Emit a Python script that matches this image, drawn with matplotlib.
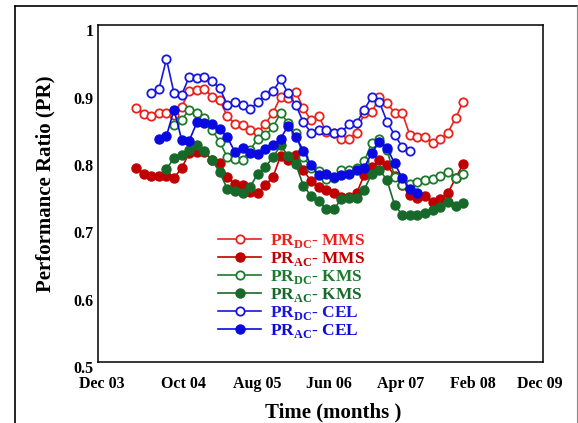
import numpy as np
import matplotlib
matplotlib.use('Agg')
import matplotlib.pyplot as plt
from matplotlib.lines import Line2D
from matplotlib.transforms import ScaledTranslation

plt.rcParams['font.family'] = 'Liberation Serif'
plt.rcParams['font.weight'] = 'bold'
plt.rcParams['mathtext.fontset'] = 'custom'
plt.rcParams['mathtext.rm'] = 'Liberation Serif:bold'
plt.rcParams['mathtext.bf'] = 'Liberation Serif:bold'

# x = months counted from Dec 03
mms_months = np.arange(5, 49)
kms_dc_months = np.arange(10, 49)
kms_ac_months = np.arange(9, 49)
cel_dc_months = np.arange(7, 42)
cel_ac_months = np.arange(8, 43)

mms_dc = [0.877, 0.868, 0.865, 0.870, 0.870, 0.867, 0.879, 0.903, 0.904, 0.906,
          0.894, 0.889, 0.865, 0.854, 0.852, 0.845, 0.842, 0.854, 0.870, 0.894,
          0.892, 0.901, 0.877, 0.859, 0.866, 0.842, 0.840, 0.832, 0.832, 0.841,
          0.870, 0.871, 0.894, 0.885, 0.870, 0.870, 0.837, 0.834, 0.834, 0.825,
          0.831, 0.841, 0.862, 0.887]
mms_ac = [0.788, 0.779, 0.776, 0.777, 0.777, 0.774, 0.788, 0.811, 0.812, 0.812,
          0.800, 0.796, 0.775, 0.764, 0.763, 0.752, 0.751, 0.763, 0.775, 0.806,
          0.800, 0.808, 0.785, 0.769, 0.760, 0.756, 0.751, 0.745, 0.745, 0.751,
          0.778, 0.790, 0.800, 0.793, 0.776, 0.763, 0.748, 0.743, 0.746, 0.737,
          0.742, 0.751, 0.773, 0.794]
kms_dc = [0.852, 0.860, 0.875, 0.870, 0.862, 0.845, 0.827, 0.804, 0.802, 0.800,
          0.815, 0.832, 0.837, 0.849, 0.870, 0.855, 0.840, 0.805, 0.789, 0.784,
          0.772, 0.774, 0.786, 0.786, 0.788, 0.798, 0.826, 0.832, 0.815, 0.775,
          0.763, 0.764, 0.767, 0.770, 0.772, 0.777, 0.782, 0.774, 0.779]
kms_ac = [0.787, 0.803, 0.808, 0.815, 0.823, 0.813, 0.800, 0.782, 0.757, 0.754,
          0.751, 0.760, 0.780, 0.790, 0.804, 0.822, 0.806, 0.794, 0.762, 0.747,
          0.739, 0.728, 0.727, 0.742, 0.743, 0.743, 0.756, 0.780, 0.786, 0.770,
          0.733, 0.719, 0.718, 0.719, 0.722, 0.726, 0.731, 0.737, 0.732, 0.736]
cel_dc = [0.899, 0.905, 0.950, 0.899, 0.897, 0.924, 0.922, 0.924, 0.917, 0.907,
          0.882, 0.887, 0.882, 0.876, 0.886, 0.897, 0.902, 0.920, 0.899, 0.882,
          0.856, 0.841, 0.845, 0.845, 0.841, 0.842, 0.853, 0.855, 0.875, 0.894,
          0.886, 0.857, 0.837, 0.820, 0.814]
cel_ac = [0.831, 0.836, 0.875, 0.830, 0.829, 0.856, 0.855, 0.854, 0.846, 0.834,
          0.812, 0.818, 0.810, 0.809, 0.816, 0.822, 0.832, 0.851, 0.835, 0.814,
          0.793, 0.778, 0.779, 0.775, 0.778, 0.780, 0.786, 0.789, 0.811, 0.827,
          0.818, 0.795, 0.773, 0.757, 0.751]

xtick_pos = [0.5, 11.2, 20.9, 30.4, 39.8, 49.3, 58.1]
xtick_labels = ['Dec 03', 'Oct 04', 'Aug 05', 'Jun 06', 'Apr 07', 'Feb 08', 'Dec 09']
yticks = [0.5, 0.6, 0.7, 0.8, 0.9, 1.0]
ytick_labels = ['0.5', '0.6', '0.7', '0.8', '0.9', '1']

series = [
    (mms_months, mms_dc, '#e8221c', False, r'PR$_{\mathrm{DC}}$- MMS'),
    (mms_months, mms_ac, '#c00000', True, r'PR$_{\mathrm{AC}}$- MMS'),
    (kms_dc_months, kms_dc, '#1c7a2c', False, r'PR$_{\mathrm{DC}}$- KMS'),
    (kms_ac_months, kms_ac, '#17692a', True, r'PR$_{\mathrm{AC}}$- KMS'),
    (cel_dc_months, cel_dc, '#1717dd', False, r'PR$_{\mathrm{DC}}$- CEL'),
    (cel_ac_months, cel_ac, '#0a0ae0', True, r'PR$_{\mathrm{AC}}$- CEL'),
]

fig = plt.figure(figsize=(5.78, 4.23), dpi=100)
ax = fig.add_axes([98 / 578, 61 / 423, 445 / 578, 336.5 / 423])

for x, y, c, filled, lab in series:
    if filled:
        ax.plot(x, y, '-o', color=c, lw=1.2, ms=6.5, mfc=c, mec=c, label=lab)
    else:
        ax.plot(x, y, '-o', color=c, lw=1.2, ms=6, mfc='white', mec=c, mew=1.3, label=lab)

ax.set_xlim(0, 58.5)
ax.set_ylim(0.5, 1.0)
ax.set_xticks(xtick_pos)
ax.set_xticklabels(xtick_labels)
ax.set_yticks(yticks)
ax.set_yticklabels(ytick_labels)
ax.tick_params(axis='both', length=0, labelsize=11.5)
ax.tick_params(axis='x', pad=10)
ax.tick_params(axis='y', pad=3)
for lbl in ax.get_yticklabels():
    lbl.set_transform(lbl.get_transform() + ScaledTranslation(0, -5 / 100, fig.dpi_scale_trans))
for sp in ax.spines.values():
    sp.set_linewidth(1.1)

fig.text(45 / 578, 1 - 184 / 423, 'Performance Ratio (PR)', rotation=90,
         ha='center', va='center', fontsize=15, fontweight='bold')
fig.text(333 / 578, 1 - 412 / 423, 'Time (months )', ha='center', va='center',
         fontsize=15, fontweight='bold')

leg = ax.legend(loc='upper left', bbox_to_anchor=(218 / 578, 1 - 232 / 423),
                bbox_transform=fig.transFigure, frameon=False, fontsize=12.5,
                handlelength=2.5, handletextpad=0.5, labelspacing=0.0,
                borderpad=0, borderaxespad=0)
for txt, s in zip(leg.get_texts(), series):
    txt.set_color(s[2])

# outer frame
fig.add_artist(Line2D([15 / 578, 577 / 578], [1 - 6 / 423, 1 - 6 / 423], color='black', lw=1.2))
fig.add_artist(Line2D([15 / 578, 15 / 578], [0, 1 - 6 / 423], color='black', lw=1.2))
fig.add_artist(Line2D([577 / 578, 577 / 578], [0, 1 - 6 / 423], color='#888888', lw=0.8))

fig.savefig('out.png', dpi=100)
